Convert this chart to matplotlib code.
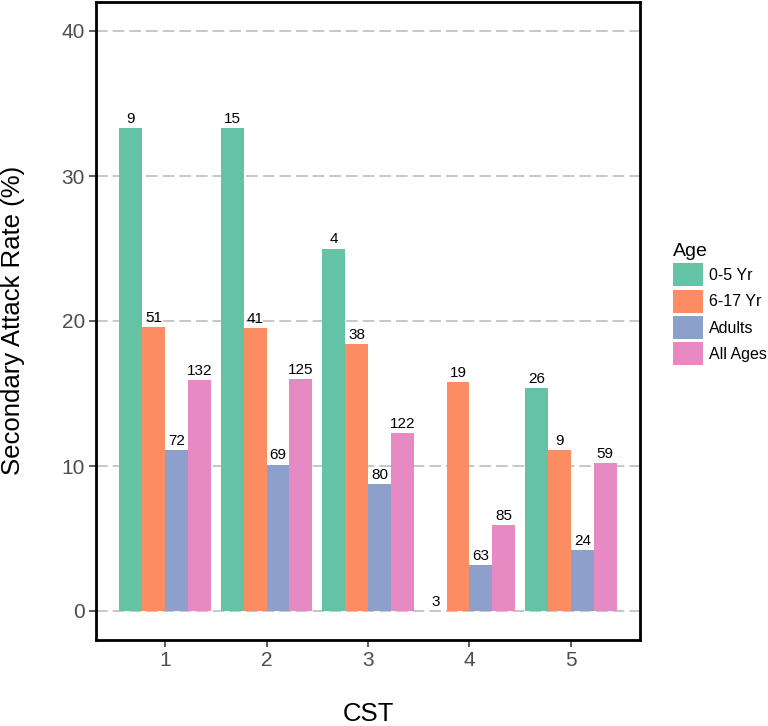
import matplotlib
matplotlib.use("Agg")
import matplotlib.pyplot as plt
from matplotlib.patches import Patch
import numpy as np

plt.rcParams['font.family'] = ['Liberation Sans', 'DejaVu Sans']

categories = ["1", "2", "3", "4", "5"]
groups = ["0-5 Yr", "6-17 Yr", "Adults", "All Ages"]
rate_0_5 = [33.3, 33.3, 25.0, 0.0, 15.4]
rate_6_17 = [19.6, 19.5, 18.4, 15.8, 11.1]
rate_adults = [11.1, 10.1, 8.75, 3.2, 4.2]
rate_all = [15.9, 16.0, 12.3, 5.9, 10.2]
n_0_5 = [9, 15, 4, 3, 26]
n_6_17 = [51, 41, 38, 19, 9]
n_adults = [72, 69, 80, 63, 24]
n_all = [132, 125, 122, 85, 59]
colors = ["#66C2A5", "#FC8D62", "#8DA0CB", "#E78AC3"]

series = [rate_0_5, rate_6_17, rate_adults, rate_all]
counts = [n_0_5, n_6_17, n_adults, n_all]

W, H = 768, 726
fig = plt.figure(figsize=(W / 100, H / 100), dpi=100)
ax = fig.add_axes([96 / W, (H - 640) / H, (640 - 96) / W, (640 - 2) / H])

x = np.arange(1, len(categories) + 1)
bw = 0.9 / 4
for i, (vals, ns, c) in enumerate(zip(series, counts, colors)):
    pos = x + (i - 1.5) * bw
    ax.bar(pos, vals, width=bw, color=c, zorder=2, linewidth=0)
    for px, v, n in zip(pos, vals, ns):
        ax.annotate(str(n), (px, v), xytext=(0, 1.5), textcoords="offset points",
                    ha="center", va="bottom", fontsize=11, color="black", zorder=3)

ax.set_xlim(0.32, 5.68)
ax.set_ylim(-2, 42)
ax.set_xticks(x)
ax.set_xticklabels(categories)
ax.set_yticks([0, 10, 20, 30, 40])
ax.tick_params(axis="both", colors="#333333", labelcolor="#4D4D4D",
               labelsize=15, length=5, width=1.1, pad=3)
ax.yaxis.grid(True, color="#BEBEBE", linewidth=1.2, linestyle=(0, (7, 3)), zorder=1)
ax.xaxis.grid(False)
ax.set_axisbelow(True)
for s in ax.spines.values():
    s.set_linewidth(2)
    s.set_color("black")

fig.text(368 / W, 1 - 714 / H, "CST", ha="center", va="center", fontsize=18.5, color="black")
fig.text(13 / W, 1 - 320 / H, "Secondary Attack Rate (%)", ha="center", va="center",
         rotation=90, fontsize=18.5, color="black")

handles = [Patch(facecolor=c, edgecolor="none") for c in colors]
leg = fig.legend(handles, groups, title="Age", loc="upper left",
                 bbox_to_anchor=(673 / W, 1 - 243 / H), frameon=False,
                 borderpad=0, borderaxespad=0, fontsize=11.5, title_fontsize=14,
                 handlelength=1.9, handleheight=1.85, labelspacing=0.2,
                 handletextpad=0.35, alignment="left")

fig.savefig("out.png", dpi=100)
